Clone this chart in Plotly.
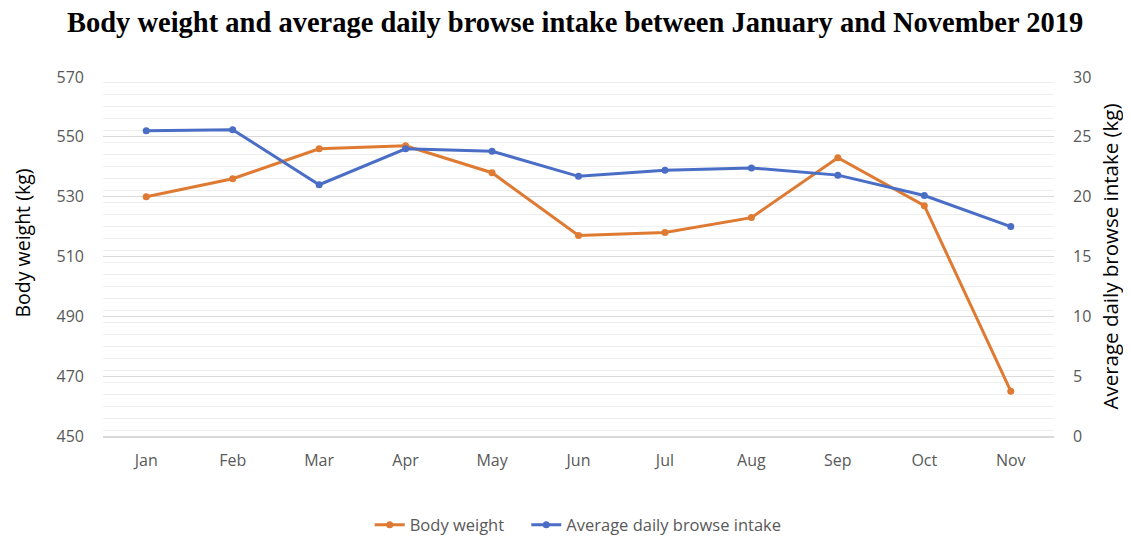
import plotly.graph_objects as go

months = ["Jan", "Feb", "Mar", "Apr", "May", "Jun", "Jul", "Aug", "Sep", "Oct", "Nov"]
body_weight = [530, 536, 546, 547, 538, 517, 518, 523, 543, 527, 465]
browse_intake = [25.5, 25.6, 21.0, 24.0, 23.8, 21.7, 22.2, 22.4, 21.8, 20.1, 17.5]

left_ticks = [450, 470, 490, 510, 530, 550, 570]
right_ticks = [0, 5, 10, 15, 20, 25, 30]

orange = "#DF7A33"
blue = "#4A6DC6"
grid_minor = "#EFEFEF"
grid_major = "#D9D9D9"
sans = "Open Sans, Liberation Sans, sans-serif"
tick_font = dict(family=sans, size=16, color="#595959")

fig = go.Figure()
fig.add_trace(go.Scatter(
    x=months, y=body_weight, name="Body weight\u00a0\u00a0\u00a0\u00a0", mode="lines+markers",
    line=dict(color=orange, width=3), marker=dict(color=orange, size=7),
    yaxis="y"))
fig.add_trace(go.Scatter(
    x=months, y=browse_intake, name="Average daily browse intake", mode="lines+markers",
    line=dict(color=blue, width=3), marker=dict(color=blue, size=7),
    yaxis="y2"))

fig.update_layout(
    width=1123, height=560,
    paper_bgcolor="white", plot_bgcolor="white",
    margin=dict(l=95, r=77, t=69, b=132),
    title=dict(text="<b>Body weight and average daily browse intake between January and November 2019</b>",
               x=0.505, xanchor="center", y=1 - 14 / 560, yanchor="middle",
               font=dict(family="Liberation Serif, Times New Roman, serif", size=28.5, color="black")),
    xaxis=dict(type="category", tickfont=tick_font, showgrid=False, ticks="",
               showline=True, linecolor=grid_major, linewidth=1.5, range=[-0.5, 10.5],
               automargin=False, ticklabelstandoff=9),
    yaxis=dict(range=[450, 570], tickvals=left_ticks, tickfont=tick_font,
               showgrid=True, gridcolor=grid_major, gridwidth=1.2, zeroline=False,
               minor=dict(dtick=4, showgrid=True, gridcolor=grid_minor, gridwidth=1),
               automargin=False, ticklabelstandoff=18),
    yaxis2=dict(range=[0, 30], tickvals=right_ticks, tickfont=tick_font, overlaying="y", side="right",
                showgrid=False, zeroline=False, automargin=False,
                title=dict(text="Average daily browse intake (kg)", standoff=13,
                           font=dict(family=sans, size=20.5, color="black")),
                ticklabelstandoff=18),
    legend=dict(orientation="h", x=0.4997, xanchor="center", y=-0.248, yanchor="middle",
                font=dict(family=sans, size=16.5, color="#595959"),
                tracegroupgap=0),
    showlegend=True,
    annotations=[dict(text="Body weight (kg)", xref="paper", yref="paper",
                      x=(14 - 95) / 951, y=1 - (235.5 - 69) / 359,
                      xanchor="center", yanchor="middle", textangle=-90, showarrow=False,
                      font=dict(family=sans, size=19.5, color="black"))],
)

fig.write_html("out.html")
